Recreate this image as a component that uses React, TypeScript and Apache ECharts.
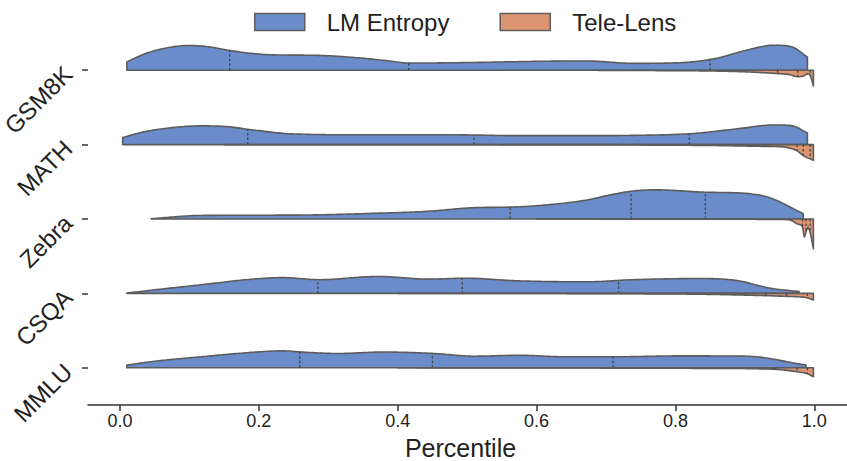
import React, { useEffect, useRef } from "react";
import * as echarts from "echarts";

const categories = ["GSM8K", "MATH", "Zebra", "CSQA", "MMLU"];
const seriesNames = ["LM Entropy", "Tele-Lens"];
const xTicks = [0, 0.2, 0.4, 0.6, 0.8, 1.0];

// LM Entropy: percentile positions and relative density (upper halves)
const lmGsm8kX = [0.01, 0.037, 0.07, 0.1, 0.13, 0.156, 0.215, 0.281, 0.346, 0.38, 0.418, 0.51, 0.608, 0.673, 0.739, 0.804, 0.857, 0.902, 0.942, 0.968, 0.99];
const lmGsm8kD = [0.28, 0.56, 0.76, 0.83, 0.78, 0.67, 0.52, 0.5, 0.41, 0.33, 0.24, 0.26, 0.3, 0.31, 0.23, 0.25, 0.39, 0.67, 0.84, 0.78, 0.44];
const lmMathX = [0.004, 0.037, 0.084, 0.117, 0.156, 0.189, 0.248, 0.346, 0.477, 0.575, 0.673, 0.739, 0.824, 0.889, 0.942, 0.968, 0.99];
const lmMathD = [0.24, 0.44, 0.59, 0.63, 0.6, 0.5, 0.36, 0.33, 0.33, 0.3, 0.3, 0.31, 0.37, 0.53, 0.66, 0.63, 0.39];
const lmZebraX = [0.045, 0.117, 0.248, 0.379, 0.444, 0.51, 0.562, 0.608, 0.673, 0.706, 0.739, 0.771, 0.843, 0.902, 0.935, 0.984];
const lmZebraD = [0.01, 0.12, 0.13, 0.2, 0.26, 0.38, 0.4, 0.46, 0.64, 0.81, 0.94, 0.98, 0.9, 0.86, 0.72, 0.18];
const lmCsqaX = [0.01, 0.05, 0.117, 0.182, 0.235, 0.287, 0.372, 0.444, 0.497, 0.575, 0.673, 0.739, 0.837, 0.889, 0.935, 0.978];
const lmCsqaD = [0.01, 0.12, 0.29, 0.46, 0.53, 0.46, 0.57, 0.48, 0.51, 0.42, 0.39, 0.46, 0.5, 0.43, 0.18, 0.06];
const lmMmluX = [0.01, 0.05, 0.117, 0.169, 0.235, 0.261, 0.313, 0.379, 0.452, 0.51, 0.575, 0.641, 0.713, 0.804, 0.902, 0.988];
const lmMmluD = [0.09, 0.22, 0.37, 0.48, 0.57, 0.53, 0.48, 0.53, 0.48, 0.39, 0.42, 0.37, 0.37, 0.4, 0.39, 0.09];

// Tele-Lens: percentile positions and relative density (lower halves)
const tlGsm8kX = [0.55, 0.75, 0.88, 0.932, 0.951, 0.965, 0.976, 0.984, 0.99, 0.994, 0.9986];
const tlGsm8kD = [0.0, 0.01, 0.04, 0.09, 0.12, 0.15, 0.22, 0.2, 0.12, 0.17, 0.53];
const tlMathX = [0.15, 0.6, 0.85, 0.93, 0.951, 0.965, 0.976, 0.984, 0.994, 0.9986];
const tlMathD = [0.0, 0.01, 0.03, 0.06, 0.07, 0.12, 0.22, 0.37, 0.48, 0.53];
const tlZebraX = [0.6, 0.9, 0.96, 0.965, 0.976, 0.983, 0.9856, 0.9885, 0.991, 0.995, 0.9986];
const tlZebraD = [0.0, 0.01, 0.02, 0.03, 0.17, 0.26, 0.6, 0.39, 0.28, 0.56, 1.0];
const tlCsqaX = [0.4, 0.8, 0.922, 0.96, 0.98, 0.99, 0.9986];
const tlCsqaD = [0.0, 0.02, 0.07, 0.1, 0.12, 0.15, 0.22];
const tlMmluX = [0.4, 0.85, 0.942, 0.975, 0.99, 0.9986];
const tlMmluD = [0.0, 0.02, 0.05, 0.13, 0.2, 0.3];

// Quartiles (25th, 50th, 75th)
const lmQuartiles = [
  [0.158, 0.416, 0.85],
  [0.184, 0.51, 0.82],
  [0.562, 0.736, 0.843],
  [0.285, 0.493, 0.718],
  [0.259, 0.45, 0.71],
];
const tlQuartiles = [
  [0.947, 0.976, 0.994],
  [0.975, 0.984, 0.994],
  [0.983, 0.988, 0.994],
  [0.93, 0.96, 0.99],
  [0.942, 0.975, 0.99],
];

const lmProfiles = [
  [lmGsm8kX, lmGsm8kD],
  [lmMathX, lmMathD],
  [lmZebraX, lmZebraD],
  [lmCsqaX, lmCsqaD],
  [lmMmluX, lmMmluD],
];
const tlProfiles = [
  [tlGsm8kX, tlGsm8kD],
  [tlMathX, tlMathD],
  [tlZebraX, tlZebraD],
  [tlCsqaX, tlCsqaD],
  [tlMmluX, tlMmluD],
];

const BLUE = "#6a8ccb";
const ORANGE = "#dd9470";
const EDGE = "#5c5c5c";
const FONT = "'Liberation Sans', Arial, sans-serif";

// monotone cubic (Fritsch-Carlson) evaluator in pixel space
function makeMonotone(xs: number[], ys: number[]) {
  const n = xs.length;
  const dx: number[] = [];
  const dl: number[] = [];
  for (let k = 0; k < n - 1; k++) {
    dx.push(xs[k + 1] - xs[k]);
    dl.push((ys[k + 1] - ys[k]) / (xs[k + 1] - xs[k] || 1e-9));
  }
  const m: number[] = new Array(n).fill(0);
  m[0] = dl[0];
  m[n - 1] = dl[n - 2];
  for (let k = 1; k < n - 1; k++) {
    m[k] = dl[k - 1] * dl[k] <= 0 ? 0 : (dl[k - 1] + dl[k]) / 2;
  }
  for (let k = 0; k < n - 1; k++) {
    if (dl[k] === 0) {
      m[k] = 0;
      m[k + 1] = 0;
    } else {
      const a = m[k] / dl[k];
      const b = m[k + 1] / dl[k];
      const s = a * a + b * b;
      if (s > 9) {
        const t = 3 / Math.sqrt(s);
        m[k] = t * a * dl[k];
        m[k + 1] = t * b * dl[k];
      }
    }
  }
  const seg = (k: number, t: number) => {
    const t2 = t * t;
    const t3 = t2 * t;
    return (
      (2 * t3 - 3 * t2 + 1) * ys[k] +
      (t3 - 2 * t2 + t) * dx[k] * m[k] +
      (-2 * t3 + 3 * t2) * ys[k + 1] +
      (t3 - t2) * dx[k] * m[k + 1]
    );
  };
  const evalAt = (x: number) => {
    if (x <= xs[0]) return ys[0];
    if (x >= xs[n - 1]) return ys[n - 1];
    let k = 0;
    while (k < n - 2 && x > xs[k + 1]) k++;
    return seg(k, (x - xs[k]) / (dx[k] || 1e-9));
  };
  const sample = () => {
    const out: number[][] = [];
    for (let k = 0; k < n - 1; k++) {
      const steps = Math.max(2, Math.ceil(dx[k] / 2));
      for (let s = 0; s < steps; s++) {
        const t = s / steps;
        out.push([xs[k] + t * dx[k], seg(k, t)]);
      }
    }
    out.push([xs[n - 1], ys[n - 1]]);
    return out;
  };
  return { evalAt, sample };
}

function makeRender(profiles: number[][][], quartiles: number[][], dir: number, color: string) {
  return (params: any, api: any) => {
    const i = params.dataIndex;
    const cat = api.value(1);
    const xs = profiles[i][0];
    const ds = profiles[i][1];
    const band = api.size([0, 1])[1];
    const half = band * 0.4;
    const y0 = api.coord([xs[0], cat])[1];
    const px = xs.map((x) => api.coord([x, cat])[0]);
    const py = ds.map((d) => d * half);
    const mono = makeMonotone(px, py);
    const curve = mono.sample().map((p) => [p[0], y0 + dir * Math.max(0, p[1])]);
    const poly = [[px[0], y0], ...curve, [px[px.length - 1], y0]];
    const children: any[] = [
      {
        type: "polygon",
        shape: { points: poly },
        style: { fill: color, stroke: EDGE, lineWidth: 1.6, lineJoin: "round" },
      },
    ];
    quartiles[i].forEach((q) => {
      const qx = api.coord([q, cat])[0];
      const h = Math.max(0, mono.evalAt(qx));
      children.push({
        type: "line",
        shape: { x1: qx, y1: y0, x2: qx, y2: y0 + dir * h },
        style: { stroke: "#444", lineWidth: 1.3, lineDash: [2.5, 2] },
      });
    });
    return { type: "group", children };
  };
}

export default function App() {
  const ref = useRef<HTMLDivElement>(null);
  useEffect(() => {
    if (!ref.current) return;
    const chart = echarts.init(ref.current, null, { renderer: "svg" });
    const catData = categories.map((_, i) => [0, i]);
    chart.setOption({
      animation: false,
      backgroundColor: "#ffffff",
      grid: { left: 88, right: 0, top: 33, bottom: 56, containLabel: false, outerBoundsMode: "none" },
      legend: {
        data: [
          { name: seriesNames[0], itemStyle: { color: BLUE, borderColor: EDGE, borderWidth: 1.5 } },
          { name: seriesNames[1], itemStyle: { color: ORANGE, borderColor: EDGE, borderWidth: 1.5 } },
        ],
        left: 249,
        top: 5,
        icon: "rect",
        itemWidth: 50,
        itemHeight: 17,
        itemGap: 50,
        textStyle: { fontSize: 24, fontFamily: FONT, color: "#222", padding: [0, 0, 0, 17] },
      },
      xAxis: {
        type: "value",
        min: -0.046,
        max: 1.047,
        name: "Percentile",
        nameLocation: "middle",
        nameGap: 17,
        nameTextStyle: { fontSize: 25, lineHeight: 26, fontFamily: FONT, color: "#222", padding: [0, 14, 0, 0] },
        axisLine: { show: true, lineStyle: { color: "#333", width: 1.5 } },
        axisTick: { show: true, customValues: xTicks, length: 6, lineStyle: { color: "#333", width: 1.5 } },
        axisLabel: {
          customValues: xTicks,
          formatter: (v: number) => v.toFixed(1),
          fontSize: 18,
          fontFamily: FONT,
          color: "#222",
          margin: 7,
        },
        splitLine: { show: false },
      },
      yAxis: {
        type: "category",
        data: categories,
        inverse: true,
        axisLine: { show: false, onZero: false },
        axisTick: { show: true, alignWithLabel: true, length: 6, lineStyle: { color: "#333", width: 1.5 } },
        axisLabel: { rotate: 45, fontSize: 24, fontFamily: FONT, color: "#222", margin: 20 },
        splitLine: { show: false },
      },
      series: [
        {
          name: seriesNames[0],
          type: "custom",
          coordinateSystem: "cartesian2d",
          itemStyle: { color: BLUE, borderColor: EDGE, borderWidth: 1.5 },
          encode: { x: 0, y: 1 },
          data: catData,
          renderItem: makeRender(lmProfiles, lmQuartiles, -1, BLUE),
          z: 2,
        },
        {
          name: seriesNames[1],
          type: "custom",
          coordinateSystem: "cartesian2d",
          itemStyle: { color: ORANGE, borderColor: EDGE, borderWidth: 1.5 },
          encode: { x: 0, y: 1 },
          data: catData,
          renderItem: makeRender(tlProfiles, tlQuartiles, 1, ORANGE),
          z: 3,
        },
      ],
    });
    return () => chart.dispose();
  }, []);
  return (
    <div
      ref={ref}
      style={{ position: "fixed", left: 0, top: 0, width: 847, height: 461, background: "#fff" }}
    />
  );
}
